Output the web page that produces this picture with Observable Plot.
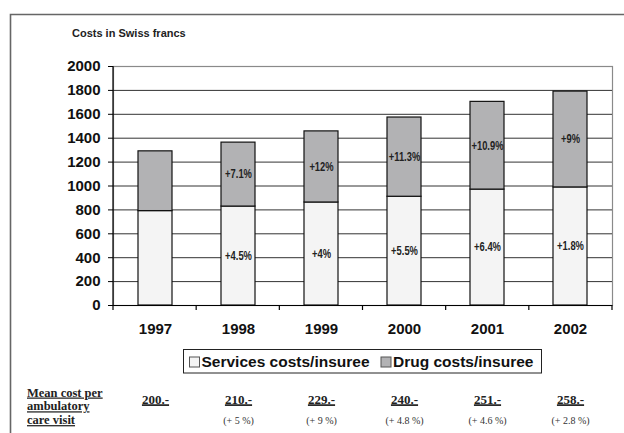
<!DOCTYPE html>
<html><head><meta charset="utf-8">
<script src="https://cdn.jsdelivr.net/npm/d3@7"></script>
<script src="https://cdn.jsdelivr.net/npm/@observablehq/plot@0.6"></script>
<style>
body{margin:0;background:#fff;}
#chart{position:relative;width:624px;height:433px;}
g[aria-label="y-axis tick label"] text, g[aria-label="x-axis tick label"] text{font-weight:bold;}
</style></head><body><div id="chart"></div>
<script>
const years = ["1997", "1998", "1999", "2000", "2001", "2002"];
const seriesNames = ["Services costs/insuree", "Drug costs/insuree"];
const servicesCosts = [790, 828, 862, 910, 970, 988];
const drugCosts = [500, 535, 595, 663, 734, 802];
const servicesGrowth = ["", "+4.5%", "+4%", "+5.5%", "+6.4%", "+1.8%"];
const drugGrowth = ["", "+7.1%", "+12%", "+11.3%", "+10.9%", "+9%"];
const meanCostVisit = ["200.-", "210.-", "229.-", "240.-", "251.-", "258.-"];
const meanCostGrowth = ["", "(+ 5 %)", "(+ 9 %)", "(+ 4.8 %)", "(+ 4.6 %)", "(+ 2.8 %)"];
const rowLabel = ["Mean cost per", "ambulatory", "care visit"];
const titleText = "Costs in Swiss francs";
const yTicks = [0, 200, 400, 600, 800, 1000, 1200, 1400, 1600, 1800, 2000];
const gridTicks = [200, 400, 600, 800, 1000, 1200, 1400, 1600, 1800];
const seriesColors = ["#f4f4f4", "#b2b2b4"];

const stacked = [];
years.forEach((y, i) => {
  stacked.push({year: y, series: seriesNames[0], value: servicesCosts[i]});
  stacked.push({year: y, series: seriesNames[1], value: drugCosts[i]});
});
const labels = years.flatMap((y, i) => [
  {year: y, mid: servicesCosts[i] / 2, text: servicesGrowth[i]},
  {year: y, mid: servicesCosts[i] + drugCosts[i] / 2, text: drugGrowth[i]}
]).filter(d => d.text);
const table = years.map((y, i) => ({year: y, cost: meanCostVisit[i], growth: meanCostGrowth[i]}));

const sans = "'Liberation Sans', Arial, sans-serif";
const serif = "'Liberation Serif', 'Times New Roman', serif";

const plot = Plot.plot({
  width: 624, height: 433,
  marginLeft: 113, marginRight: 12, marginTop: 66, marginBottom: 128,
  style: {fontFamily: sans, background: "transparent", overflow: "visible"},
  x: {domain: years, paddingInner: 0.59, paddingOuter: 0.295, label: null},
  y: {domain: [0, 2000], label: null},
  color: {domain: seriesNames, range: seriesColors},
  marks: [
    Plot.frame({stroke: "#8a8a8a", strokeWidth: 1.2}),
    Plot.ruleY(gridTicks, {stroke: "#333", strokeWidth: 1}),
    Plot.barY(stacked, {x: "year", y: "value", fill: "series", stroke: "#111", strokeWidth: 1.2}),
    Plot.text(labels, {x: "year", y: "mid", text: "text", ariaDescription: "growth-label", fontFamily: sans, fontWeight: "bold", fontSize: 12, fill: "#222"}),
    Plot.ruleY([0], {stroke: "#000", strokeWidth: 1.2}),
    Plot.axisY(yTicks, {tickSize: 5, tickPadding: 8, tickFormat: d => String(d), fontSize: 15, fontWeight: "bold", fill: "#111", stroke: "#000", label: null}),
    Plot.axisX({tickSize: 0, tickPadding: 18, fontSize: 15, fontWeight: "bold", fill: "#111", label: null}),
    Plot.text(table, {x: "year", text: "cost", frameAnchor: "bottom", dy: 98, ariaDescription: "mean-cost", fontFamily: serif, fontWeight: "bold", fontSize: 13, fill: "#222"}),
    Plot.text(table, {x: "year", text: "growth", frameAnchor: "bottom", dy: 118, fontFamily: serif, fontSize: 10, fill: "#333"})
  ]
});
document.getElementById("chart").appendChild(plot);

const svg = d3.select(plot);
// underline the mean cost values
svg.selectAll('g[aria-description="mean-cost"]').attr("text-decoration", "underline");
svg.selectAll('g[aria-description="mean-cost"] text').attr("text-decoration", "underline");
// condense the growth labels (narrow font look)
svg.selectAll('g[aria-description="growth-label"] text').each(function() {
  const w = this.getComputedTextLength();
  if (w > 0) {
    this.setAttribute("textLength", (w * 0.78).toFixed(1));
    this.setAttribute("lengthAdjust", "spacingAndGlyphs");
  }
});

// overlay: axis line, band-boundary ticks, outer frame, title, legend, row label
const xs = plot.scale("x"), ys = plot.scale("y");
const [x0, x1] = xs.range;
const [yb, yt] = ys.range;
const step = (x1 - x0) / years.length;
const g = svg.append("g").attr("text-anchor", "start");
g.append("line").attr("x1", x0).attr("x2", x0).attr("y1", yt).attr("y2", yb).attr("stroke", "#000").attr("stroke-width", 1.2);
d3.range(years.length + 1).forEach(i => {
  const x = x0 + i * step;
  g.append("line").attr("x1", x).attr("x2", x).attr("y1", yb).attr("y2", yb + 5).attr("stroke", "#000").attr("stroke-width", 1.2);
});
g.append("path").attr("d", "M10.5,433V14.5H624").attr("fill", "none").attr("stroke", "#666").attr("stroke-width", 1.6);
g.append("text").attr("x", 72).attr("y", 36.5).text(titleText)
  .attr("font-size", 11).attr("font-weight", "bold").attr("fill", "#222");
const lg = g.append("g").attr("font-size", 15.5).attr("font-weight", "bold").attr("fill", "#111");
lg.append("rect").attr("x", 183.5).attr("y", 349.5).attr("width", 358).attr("height", 23.5).attr("fill", "#fff").attr("stroke", "#222").attr("stroke-width", 1);
const legendItems = [{x: 189, tx: 201.5}, {x: 380.5, tx: 393}];
legendItems.forEach((it, i) => {
  lg.append("rect").attr("x", it.x + 0.5).attr("y", 357).attr("width", 10).attr("height", 10)
    .attr("fill", seriesColors[i]).attr("stroke", "#555").attr("stroke-width", 1);
  lg.append("text").attr("x", it.tx).attr("y", 367).text(seriesNames[i]);
});
const rl = g.append("g").attr("font-family", serif).attr("font-weight", "bold").attr("font-size", 12.5)
  .attr("fill", "#222").attr("text-decoration", "underline");
rowLabel.forEach((t, i) => rl.append("text").attr("x", 27).attr("y", 396.5 + i * 13.8).text(t));
</script></body></html>
